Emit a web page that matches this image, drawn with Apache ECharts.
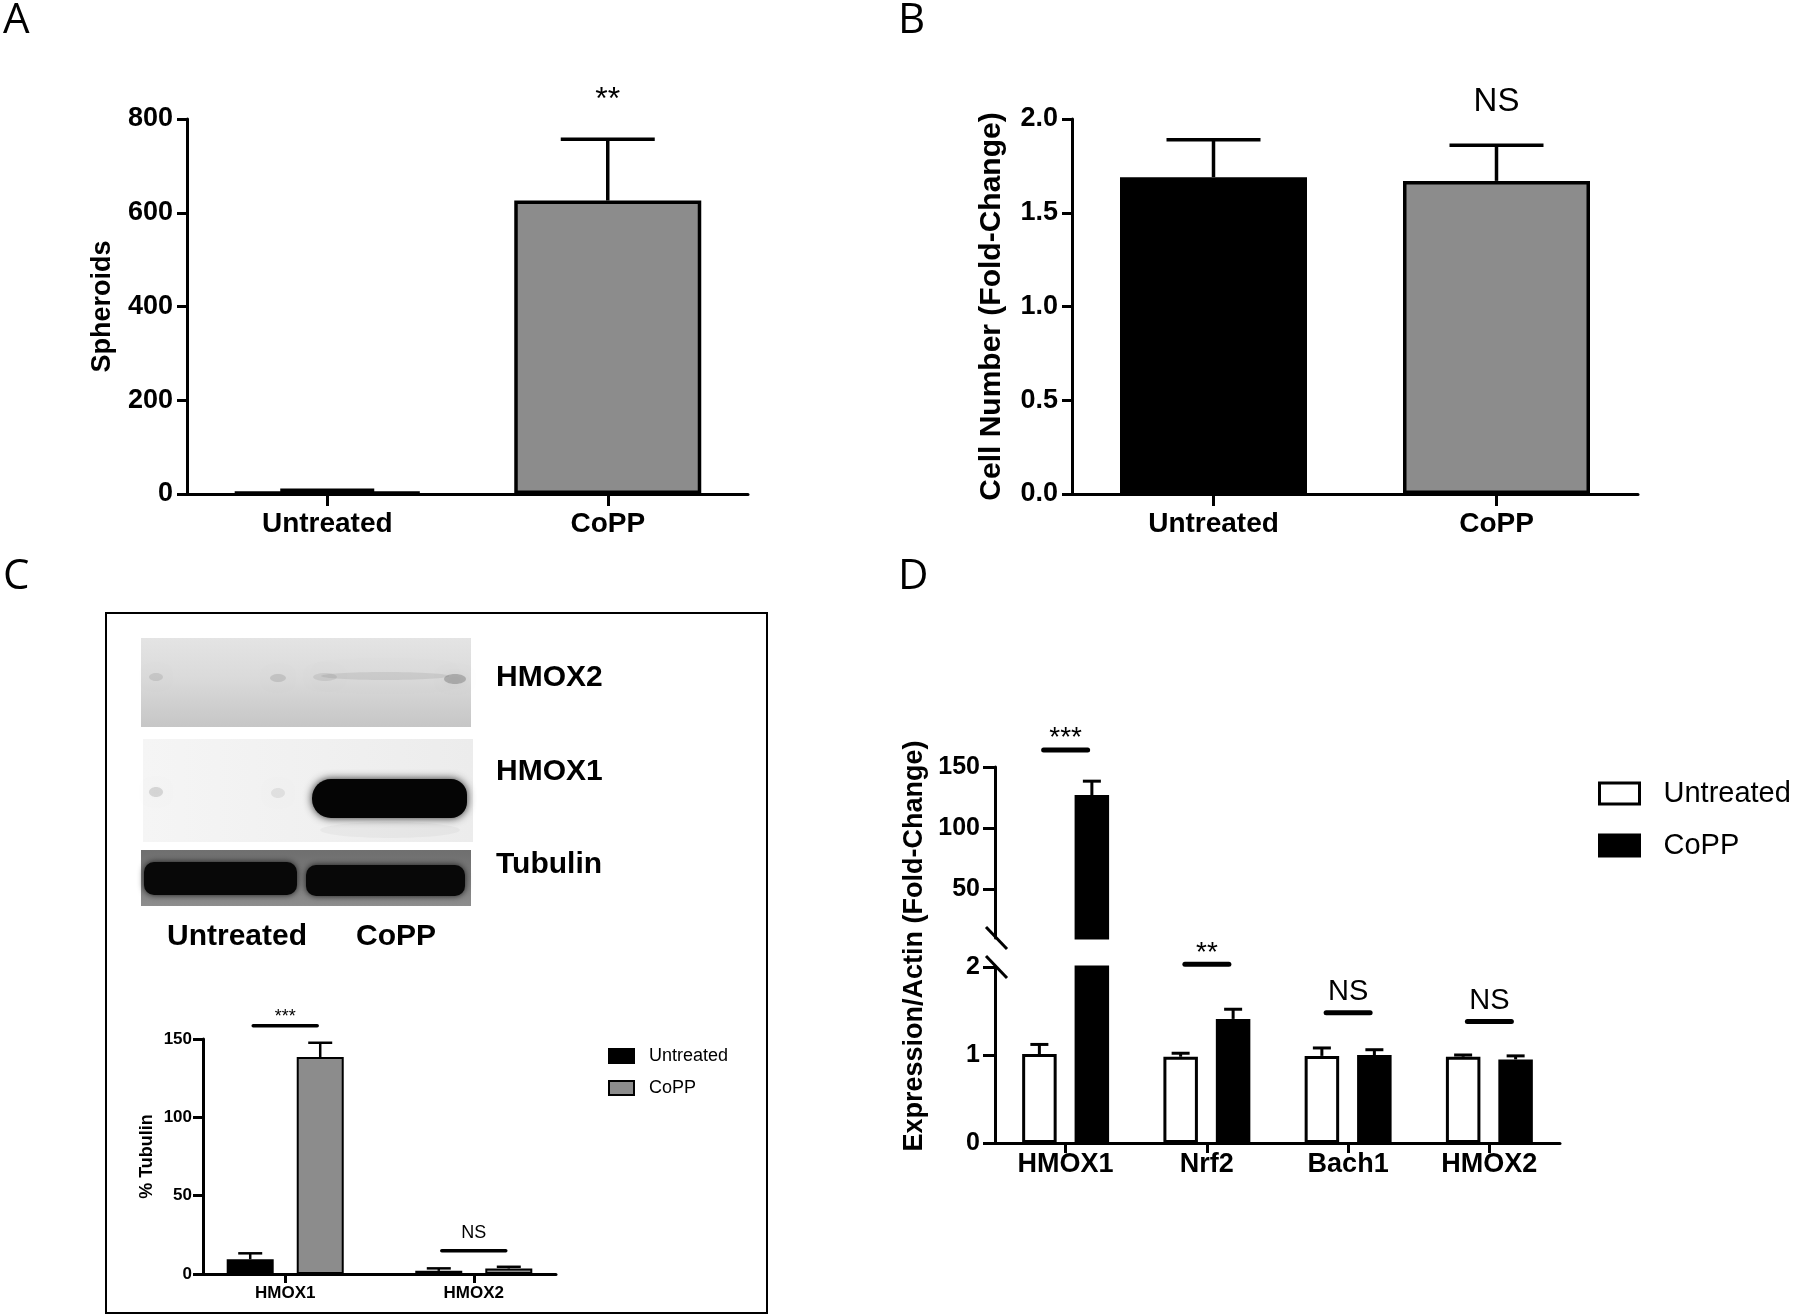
<!DOCTYPE html>
<html>
<head>
<meta charset="utf-8">
<script src="https://cdn.jsdelivr.net/npm/echarts@6/dist/echarts.min.js"></script>
<style>html,body{margin:0;padding:0;background:#fff}#c{width:1800px;height:1315px}</style>
</head>
<body>
<div id="c"></div>
<script>
// ---------------- data ----------------
const aCategories = ['Untreated', 'CoPP'];
const aValues = [4, 626];
const aErrors = [4, 131];
const aSig = ['', '**'];
const aSigLevel = [0, 857];

const bCategories = ['Untreated', 'CoPP'];
const bValues = [1.69, 1.67];
const bErrors = [0.20, 0.19];
const bSig = ['', 'NS'];
const bSigLevel = [0, 2.09];

const cCategories = ['HMOX1', 'HMOX2'];
const cUntreated = [9.4, 2.0];
const cUntreatedErr = [3.8, 1.6];
const cCoPP = [138.5, 3.5];
const cCoPPErr = [9.1, 1.1];
const cSig = ['***', 'NS'];
const cSigLevel = [158.5, 14.9];

const dCategories = ['HMOX1', 'Nrf2', 'Bach1', 'HMOX2'];
const dUntreated = [1.01, 0.98, 0.99, 0.98];
const dUntreatedErr = [0.11, 0.04, 0.09, 0.02];
const dCoPP = [127, 1.41, 1.00, 0.95];
const dCoPPErr = [11.4, 0.11, 0.06, 0.04];
const dSig = ['***', '**', 'NS', 'NS'];
const dSigLevel = [164, 2.03, 1.48, 1.38];
const dUpperTicks = [50, 100, 150];
const dBreak = [2, 10]; // top of lower segment, bottom of upper segment

const blotLabels = ['HMOX2', 'HMOX1', 'Tubulin'];
const laneLabels = ['Untreated', 'CoPP'];

// ---------------- styles ----------------
const SANS = "'Liberation Sans', Arial, Helvetica, sans-serif";
const LETTER = "'Liberation Sans Narrow', 'Open Sans', sans-serif";
const BLACK = '#000';
const GRAY = '#8c8c8c';

const chart = echarts.init(document.getElementById('c'), null, {renderer: 'canvas'});

function catX(gi, data, labelSize, margin, tickLen) {
  return {
    type: 'category', gridIndex: gi, data: data,
    axisLine: {show: true, onZero: false, lineStyle: {color: BLACK, width: 3}},
    axisTick: {show: true, alignWithLabel: true, length: tickLen, lineStyle: {color: BLACK, width: 3}},
    axisLabel: {interval: 0, margin: margin, color: BLACK, fontSize: labelSize, fontWeight: 'bold', fontFamily: SANS},
    splitLine: {show: false}
  };
}
function valY(gi, min, max, interval, labelSize, margin, tickLen, extra) {
  const o = {
    type: 'value', gridIndex: gi, min: min, max: max,
    axisLine: {show: true, onZero: false, lineStyle: {color: BLACK, width: 3}},
    axisTick: {show: true, length: tickLen, lineStyle: {color: BLACK, width: 3}},
    axisLabel: {margin: margin, color: BLACK, fontSize: labelSize, fontWeight: 'bold', fontFamily: SANS},
    splitLine: {show: false},
    nameMoveOverlap: false
  };
  if (interval != null) o.interval = interval;
  return Object.assign(o, extra || {});
}

function errorBars(xi, yi, items, capHalf, lw) {
  return {
    type: 'custom', xAxisIndex: xi, yAxisIndex: yi, z: 3, silent: true, clip: false,
    encode: {x: 0, y: 1},
    data: items,
    renderItem: function (params, api) {
      const x = api.value(0), v = api.value(1), e = api.value(2), off = api.value(3);
      const a = api.coord([x, v]), b = api.coord([x, v + e]);
      const cx = a[0] + off;
      return {type: 'group', children: [
        {type: 'line', shape: {x1: cx, y1: a[1], x2: cx, y2: b[1]}, style: {stroke: BLACK, lineWidth: lw}},
        {type: 'line', shape: {x1: cx - capHalf, y1: b[1], x2: cx + capHalf, y2: b[1]}, style: {stroke: BLACK, lineWidth: lw}}
      ]};
    }
  };
}

function sigMarks(xi, yi, items, labels, o) {
  return {
    type: 'custom', xAxisIndex: xi, yAxisIndex: yi, z: 4, silent: true, clip: false,
    encode: {x: 0, y: 1},
    data: items,
    renderItem: function (params, api) {
      const p = api.coord([api.value(0), api.value(1)]);
      const txt = labels[api.value(2)];
      const star = /^\*+$/.test(txt);
      const ch = [];
      if (o.lineHalf) {
        ch.push({type: 'line', shape: {x1: p[0] - o.lineHalf, y1: p[1], x2: p[0] + o.lineHalf, y2: p[1]},
          style: {stroke: BLACK, lineWidth: o.lineWidth, lineCap: 'round'}});
      }
      ch.push({type: 'text', x: p[0], y: p[1] - (star ? o.starGap : o.textGap),
        style: {text: txt, fill: BLACK, fontSize: star ? o.starSize : o.textSize, fontFamily: SANS,
          align: 'center', verticalAlign: 'middle', textAlign: 'center', textVerticalAlign: 'middle'}});
      return {type: 'group', children: ch};
    }
  };
}

function sigItems(levels, labels, filter) {
  const out = [];
  levels.forEach(function (lv, i) { if (labels[i] && (!filter || filter(lv))) out.push([i, lv, i]); });
  return out;
}

function breakMark(xi, yi, value) {
  return {
    type: 'custom', xAxisIndex: xi, yAxisIndex: yi, z: 5, silent: true, clip: false,
    encode: {x: 0, y: 1},
    data: [[0, value]],
    renderItem: function (params, api) {
      const y = api.coord([0, api.value(1)])[1];
      const x = params.coordSys.x;
      return {type: 'line', shape: {x1: x - 9, y1: y - 11, x2: x + 12, y2: y + 11},
        style: {stroke: BLACK, lineWidth: 3}};
    }
  };
}

// error-bar item lists
const aErrItems = aValues.map((v, i) => [i, v, aErrors[i], 0]);
const bErrItems = bValues.map((v, i) => [i, v, bErrors[i], 0]);
const cOff = 35;
const cErrItems = [];
cUntreated.forEach((v, i) => cErrItems.push([i, v, cUntreatedErr[i], -cOff]));
cCoPP.forEach((v, i) => cErrItems.push([i, v, cCoPPErr[i], cOff]));
const dOff = 26.25;
const dLowErr = [], dUpErr = [];
[[dUntreated, dUntreatedErr, -dOff], [dCoPP, dCoPPErr, dOff]].forEach(function (s) {
  s[0].forEach(function (v, i) {
    const item = [i, v, s[1][i], s[2]];
    if (v <= dBreak[0]) dLowErr.push(item);
    if (v >= dBreak[1]) dUpErr.push(item);
  });
});
const upperOnly = arr => arr.map(v => (v >= dBreak[1] ? v : '-'));

// ---------------- blot drawings (picture inside panel C, no data) ----------------
function blob(cx, cy, rx, ry, alpha, blur) {
  const c = 'rgba(0,0,0,' + alpha + ')';
  return {type: 'ellipse', shape: {cx: cx, cy: cy, rx: rx, ry: ry}, silent: true,
    style: {fill: c, shadowBlur: blur, shadowColor: c}};
}
function letter(t, x, y) {
  return {type: 'text', x: x, y: y, style: {text: t, fontSize: 42, fontFamily: LETTER, fill: BLACK, verticalAlign: 'middle', textVerticalAlign: 'middle'}};
}
function boldText(t, x, y, center) {
  const s = {text: t, fontSize: 30, fontWeight: 'bold', fontFamily: SANS, fill: BLACK, verticalAlign: 'middle', textVerticalAlign: 'middle'};
  if (center) { s.align = 'center'; s.textAlign = 'center'; }
  return {type: 'text', x: x, y: y, style: s};
}
const graphics = [
  letter('A', 3, 21), letter('B', 898, 21), letter('C', 3, 577), letter('D', 898, 577),
  // panel C frame
  {type: 'rect', shape: {x: 106, y: 613, width: 661, height: 700}, silent: true, style: {fill: 'none', stroke: BLACK, lineWidth: 2}},
  // HMOX2 blot
  {type: 'rect', shape: {x: 141, y: 638, width: 330, height: 89}, silent: true,
    style: {fill: {type: 'linear', x: 0, y: 0, x2: 0, y2: 1, colorStops: [{offset: 0, color: '#e4e4e4'}, {offset: 0.45, color: '#dadada'}, {offset: 1, color: '#c6c6c6'}]}}},
  blob(385, 676, 64, 4, 0.07, 12), blob(156, 677, 7, 4, 0.09, 10), blob(278, 678, 8, 4, 0.1, 10),
  blob(325, 677, 12, 4, 0.07, 10), blob(455, 679, 11, 5, 0.2, 10),
  // HMOX1 blot
  {type: 'rect', shape: {x: 143, y: 739, width: 330, height: 103}, silent: true,
    style: {fill: {type: 'linear', x: 0, y: 0, x2: 1, y2: 0, colorStops: [{offset: 0, color: '#f5f5f5'}, {offset: 1, color: '#ececec'}]}}},
  blob(156, 792, 7, 5, 0.12, 10), blob(278, 793, 7, 5, 0.07, 10), blob(390, 830, 70, 8, 0.03, 10),
  {type: 'rect', shape: {x: 312, y: 779, width: 155, height: 39, r: [19, 16, 16, 19]}, silent: true,
    style: {fill: '#050505', shadowBlur: 9, shadowColor: 'rgba(0,0,0,0.85)'}},
  // Tubulin blot
  {type: 'rect', shape: {x: 141, y: 850, width: 330, height: 56}, silent: true,
    style: {fill: {type: 'linear', x: 0, y: 0, x2: 0, y2: 1, colorStops: [{offset: 0, color: '#6f6f6f'}, {offset: 0.5, color: '#7a7a7a'}, {offset: 1, color: '#8e8e8e'}]}}},
  {type: 'rect', shape: {x: 144, y: 862, width: 153, height: 33, r: 10}, silent: true,
    style: {fill: '#080808', shadowBlur: 6, shadowColor: 'rgba(0,0,0,0.8)'}},
  {type: 'rect', shape: {x: 306, y: 865, width: 159, height: 31, r: 10}, silent: true,
    style: {fill: '#080808', shadowBlur: 6, shadowColor: 'rgba(0,0,0,0.8)'}},
  // blot labels
  boldText(blotLabels[0], 496, 678), boldText(blotLabels[1], 496, 772), boldText(blotLabels[2], 496, 865),
  boldText(laneLabels[0], 237, 937, true), boldText(laneLabels[1], 396, 937, true),
  // panel D axis title (spans the broken axis)
  {type: 'text', x: 915, y: 946, rotation: Math.PI / 2,
    style: {text: 'Expression/Actin (Fold-Change)', fontSize: 27, fontWeight: 'bold', fontFamily: SANS, fill: BLACK,
      align: 'center', textAlign: 'center', verticalAlign: 'middle', textVerticalAlign: 'middle'}}
];

const option = {
  animation: false,
  backgroundColor: '#fff',
  grid: [
    {left: 187, top: 119, width: 561, height: 375, outerBoundsMode: 'none'},
    {left: 1072, top: 119, width: 566, height: 375, outerBoundsMode: 'none'},
    {left: 203, top: 1039, width: 353, height: 235, outerBoundsMode: 'none'},
    {left: 995, top: 967, width: 565, height: 176, outerBoundsMode: 'none'},
    {left: 995, top: 767, width: 565, height: 171, outerBoundsMode: 'none'}
  ],
  xAxis: [
    catX(0, aCategories, 28, 16, 12),
    catX(1, bCategories, 28, 16, 12),
    {
      type: 'value', gridIndex: 2, min: -0.436, max: 1.436,
      axisLine: {show: true, onZero: false, lineStyle: {color: BLACK, width: 3}},
      axisTick: {show: true, customValues: cCategories.map((c, i) => i), length: 9, lineStyle: {color: BLACK, width: 3}},
      axisLabel: {customValues: cCategories.map((c, i) => i), formatter: v => cCategories[Math.round(v)] || '',
        margin: 11, color: BLACK, fontSize: 17, fontWeight: 'bold', fontFamily: SANS},
      splitLine: {show: false}
    },
    catX(3, dCategories, 27, 8, 10),
    Object.assign(catX(4, dCategories, 27, 8, 10), {show: false})
  ],
  yAxis: [
    valY(0, 0, 800, 200, 27, 14, 10, {name: 'Spheroids', nameLocation: 'middle', nameGap: 71,
      nameTextStyle: {fontSize: 27, fontWeight: 'bold', fontFamily: SANS, color: BLACK}}),
    valY(1, 0, 2, 0.5, 27, 14, 10, {name: 'Cell Number (Fold-Change)', nameLocation: 'middle', nameGap: 65,
      nameTextStyle: {fontSize: 30, fontWeight: 'bold', fontFamily: SANS, color: BLACK}}),
    valY(2, 0, 150, 50, 17, 11, 10, {name: '% Tubulin', nameLocation: 'middle', nameGap: 47,
      nameTextStyle: {fontSize: 18, fontWeight: 'bold', fontFamily: SANS, color: BLACK}}),
    valY(3, 0, 2, 1, 25, 15, 12),
    valY(4, dBreak[1], 150, null, 25, 15, 12)
  ],
  legend: [
    {
      left: 608, top: 1047, padding: 0, orient: 'vertical', icon: 'rect', itemWidth: 25, itemHeight: 14, itemGap: 14,
      selectedMode: false,
      data: [
        {name: 'C-Untreated', itemStyle: {color: BLACK, borderColor: BLACK, borderWidth: 2}},
        {name: 'C-CoPP', itemStyle: {color: GRAY, borderColor: BLACK, borderWidth: 2}}
      ],
      formatter: n => n.slice(2),
      textStyle: {fontSize: 18, fontFamily: SANS, color: BLACK, padding: [0, 0, 0, 10]}
    },
    {
      left: 1598, top: 779, padding: 0, orient: 'vertical', icon: 'rect', itemWidth: 40, itemHeight: 21, itemGap: 23,
      selectedMode: false,
      data: [
        {name: 'D-Untreated', itemStyle: {color: '#fff', borderColor: BLACK, borderWidth: 3}},
        {name: 'D-CoPP', itemStyle: {color: BLACK, borderColor: BLACK, borderWidth: 3}}
      ],
      formatter: n => n.slice(2),
      textStyle: {fontSize: 29, fontFamily: SANS, color: BLACK, padding: [0, 0, 0, 19]}
    }
  ],
  graphic: {elements: graphics},
  series: [
    // ---- A ----
    {type: 'bar', name: 'A', xAxisIndex: 0, yAxisIndex: 0, barWidth: 187, silent: true,
      data: aValues.map((v, i) => ({value: v, itemStyle: {color: i === 0 ? BLACK : GRAY}})),
      itemStyle: {borderColor: BLACK, borderWidth: 3.5}},
    errorBars(0, 0, aErrItems, 47, 3.5),
    sigMarks(0, 0, sigItems(aSigLevel, aSig), aSig, {starGap: -7.5, textGap: 0, starSize: 32, textSize: 33}),
    // ---- B ----
    {type: 'bar', name: 'B', xAxisIndex: 1, yAxisIndex: 1, barWidth: 187, silent: true,
      data: bValues.map((v, i) => ({value: v, itemStyle: {color: i === 0 ? BLACK : GRAY}})),
      itemStyle: {borderColor: BLACK, borderWidth: 3.5}},
    errorBars(1, 1, bErrItems, 47, 3.5),
    sigMarks(1, 1, sigItems(bSigLevel, bSig), bSig, {starGap: -7.5, textGap: 0, starSize: 32, textSize: 33}),
    // ---- C ----
    {type: 'bar', name: 'C-Untreated', xAxisIndex: 2, yAxisIndex: 2, barWidth: 47, barGap: '49%', silent: true,
      data: cUntreated.map((v, i) => [i, v]), itemStyle: {color: BLACK, borderColor: BLACK, borderWidth: 2}},
    {type: 'bar', name: 'C-CoPP', xAxisIndex: 2, yAxisIndex: 2, barWidth: 47, barGap: '49%', silent: true,
      data: cCoPP.map((v, i) => [i, v]), itemStyle: {color: GRAY, borderColor: BLACK, borderWidth: 2}},
    errorBars(2, 2, cErrItems, 12, 2.5),
    sigMarks(2, 2, sigItems(cSigLevel, cSig), cSig, {lineHalf: 32, lineWidth: 3.5, starGap: 8.3, textGap: 17.4, starSize: 18, textSize: 18}),
    // ---- D lower segment ----
    {type: 'bar', name: 'D-Untreated', xAxisIndex: 3, yAxisIndex: 3, barWidth: 34.5, barGap: '52%', silent: true,
      data: dUntreated, itemStyle: {color: '#fff', borderColor: BLACK, borderWidth: 3}},
    {type: 'bar', name: 'D-CoPP', xAxisIndex: 3, yAxisIndex: 3, barWidth: 34.5, barGap: '52%', silent: true,
      data: dCoPP, itemStyle: {color: BLACK, borderColor: BLACK, borderWidth: 3}},
    errorBars(3, 3, dLowErr, 9, 3),
    sigMarks(3, 3, sigItems(dSigLevel, dSig, lv => lv < dBreak[1]), dSig, {lineHalf: 22, lineWidth: 5, starGap: 11.5, textGap: 21, starSize: 28, textSize: 29}),
    breakMark(3, 3, dBreak[0]),
    // ---- D upper segment ----
    {type: 'bar', name: 'D-Untreated', xAxisIndex: 4, yAxisIndex: 4, barWidth: 34.5, barGap: '52%', silent: true,
      data: upperOnly(dUntreated), itemStyle: {color: '#fff', borderColor: BLACK, borderWidth: 3}},
    {type: 'bar', name: 'D-CoPP', xAxisIndex: 4, yAxisIndex: 4, barWidth: 34.5, barGap: '52%', silent: true,
      data: upperOnly(dCoPP), itemStyle: {color: BLACK, borderColor: BLACK, borderWidth: 3}},
    errorBars(4, 4, dUpErr, 9, 3),
    sigMarks(4, 4, sigItems(dSigLevel, dSig, lv => lv >= dBreak[1]), dSig, {lineHalf: 22, lineWidth: 5, starGap: 11.5, textGap: 21, starSize: 28, textSize: 29}),
    breakMark(4, 4, dBreak[1])
  ]
};
// one decimal on panel B ticks, custom tick positions on the upper (broken) axis of D
option.yAxis[1].axisLabel.formatter = v => v.toFixed(1);
option.yAxis[4].axisTick.customValues = dUpperTicks;
option.yAxis[4].axisLabel.customValues = dUpperTicks;

chart.setOption(option);
</script>
</body>
</html>
